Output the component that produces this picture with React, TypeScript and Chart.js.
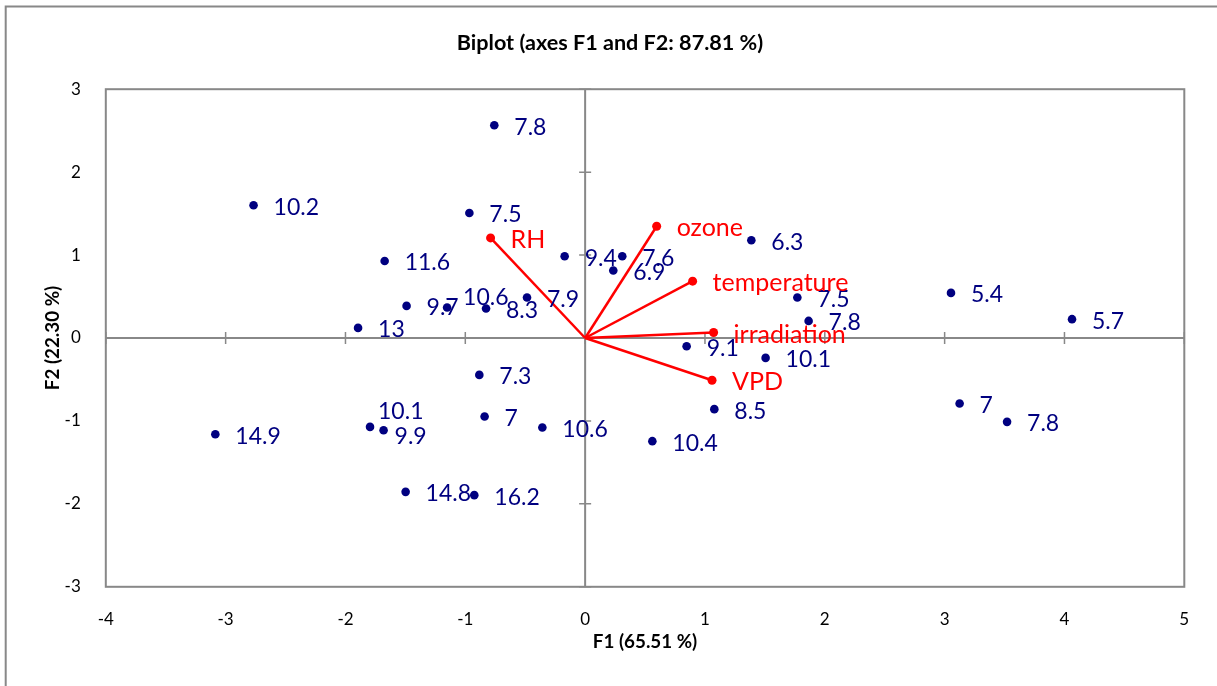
import React, { useEffect, useRef } from "react";
import { Chart, registerables } from "chart.js";
Chart.register(...registerables);

// Observations (F1, F2) and their labels
const obsF1 = [-0.758, -2.767, -0.966, -1.673, -1.490, -1.152, -0.827, -0.485, -1.895, -0.171, 0.310, 0.235, 1.387, 1.771, 1.865, 0.847, 1.506, 3.053, 4.063, 3.125, 3.521, -0.883, -1.795, -1.682, -0.839, -0.357, -1.498, -0.925, -3.086, 1.078, 0.561];
const obsF2 = [2.565, 1.601, 1.508, 0.929, 0.387, 0.368, 0.356, 0.488, 0.122, 0.986, 0.986, 0.814, 1.179, 0.488, 0.206, -0.099, -0.240, 0.544, 0.227, -0.790, -1.011, -0.445, -1.072, -1.112, -0.946, -1.079, -1.855, -1.895, -1.160, -0.858, -1.244];
const obsLabels = ["7.8", "10.2", "7.5", "11.6", "9.7", "10.6", "8.3", "7.9", "13", "9.4", "7.6", "6.9", "6.3", "7.5", "7.8", "9.1", "10.1", "5.4", "5.7", "7", "7.8", "7.3", "10.1", "9.9", "7", "10.6", "14.8", "16.2", "14.9", "8.5", "10.4"];

// Variables (loading vectors)
const varNames = ["RH", "ozone", "temperature", "irradiation", "VPD"];
const varF1 = [-0.789, 0.597, 0.897, 1.072, 1.059];
const varF2 = [1.207, 1.347, 0.685, 0.066, -0.509];

const xMin = -4, xMax = 5, yMin = -3, yMax = 3;
const chartTitle = "Biplot (axes F1 and F2: 87.81 %)";
const xTitle = "F1 (65.51 %)";
const yTitle = "F2 (22.30 %)";

// label placement tweaks (style only, indices into observations)
const labelNudge: Record<number, [number, number]> = { 5: [16, -10], 22: [8, -15], 23: [11, 6] };

const NAVY = "#000080";
const RED = "#ff0000";
const GRAY = "#888888";
const FONT = "Lato, 'Noto Sans', sans-serif";

export default function App() {
  const ref = useRef<HTMLCanvasElement | null>(null);
  useEffect(() => {
    const canvas = ref.current!;
    const decor = {
      id: "decor",
      beforeDatasetsDraw(chart: any) {
        const { ctx, chartArea: a, scales } = chart;
        const xs = scales.x, ys = scales.y;
        ctx.save();
        // outer frame
        ctx.strokeStyle = GRAY;
        ctx.lineWidth = 2;
        ctx.strokeRect(5.7, 6.5, 1240, 720);
        // plot frame
        ctx.strokeRect(a.left, a.top, a.right - a.left, a.bottom - a.top);
        // zero axes
        const x0 = xs.getPixelForValue(0), y0 = ys.getPixelForValue(0);
        ctx.beginPath();
        ctx.moveTo(a.left, y0); ctx.lineTo(a.right, y0);
        ctx.moveTo(x0, a.top); ctx.lineTo(x0, a.bottom);
        ctx.stroke();
        ctx.lineWidth = 1.5;
        ctx.beginPath();
        for (let v = xMin; v <= xMax; v++) {
          const px = xs.getPixelForValue(v);
          ctx.moveTo(px, y0 - 6); ctx.lineTo(px, y0 + 6);
        }
        for (let v = yMin; v <= yMax; v++) {
          const py = ys.getPixelForValue(v);
          ctx.moveTo(x0 - 6, py); ctx.lineTo(x0 + 6, py);
        }
        ctx.stroke();
        // titles
        ctx.fillStyle = "#000";
        ctx.textAlign = "center";
        ctx.textBaseline = "middle";
        ctx.font = `bold 21.6px ${FONT}`;
        ctx.fillText(chartTitle, 610, 43);
        ctx.font = `bold 18.8px ${FONT}`;
        ctx.fillText(xTitle, (a.left + a.right) / 2, 642);
        ctx.save();
        ctx.translate(53, (a.top + a.bottom) / 2);
        ctx.rotate(-Math.PI / 2);
        ctx.fillText(yTitle, 0, 0);
        ctx.restore();
        ctx.restore();
      },
      afterDatasetsDraw(chart: any) {
        const { ctx } = chart;
        ctx.save();
        ctx.textAlign = "left";
        ctx.textBaseline = "middle";
        ctx.font = `23px ${FONT}`;
        ctx.fillStyle = NAVY;
        const m0 = chart.getDatasetMeta(0);
        m0.data.forEach((el: any, i: number) => {
          const n = labelNudge[i] || [20, 2];
          ctx.fillText(obsLabels[i], el.x + n[0], el.y + n[1]);
        });
        ctx.font = `25px ${FONT}`;
        ctx.fillStyle = RED;
        varNames.forEach((name, i) => {
          const el = chart.getDatasetMeta(i + 1).data[1];
          ctx.fillText(name, el.x + 20, el.y + 2);
        });
        ctx.restore();
      },
    };

    const datasets: any[] = [
      {
        type: "scatter",
        data: obsF1.map((x, i) => ({ x, y: obsF2[i] })),
        backgroundColor: NAVY,
        borderColor: NAVY,
        pointRadius: 4.3,
        pointBorderWidth: 0,
        order: 2,
      },
      ...varNames.map((_, i) => ({
        type: "line",
        data: [{ x: 0, y: 0 }, { x: varF1[i], y: varF2[i] }],
        borderColor: RED,
        backgroundColor: RED,
        borderWidth: 2.5,
        pointRadius: [0, 4.5],
        pointBorderWidth: 0,
        fill: false,
        order: 1,
      })),
    ];

    const chart = new Chart(canvas, {
      type: "scatter",
      data: { datasets },
      options: {
        animation: false,
        responsive: false,
        events: [],
        layout: { padding: { left: 0, top: 89.2, right: 32.7, bottom: 0 } },
        plugins: { legend: { display: false }, tooltip: { enabled: false }, title: { display: false } },
        scales: {
          x: {
            type: "linear",
            min: xMin,
            max: xMax,
            grid: { display: false },
            border: { display: false },
            ticks: { stepSize: 1, color: "#000", font: { family: FONT, size: 17 }, padding: 15 },
            afterFit: (s: any) => { s.height = 99.2; },
          },
          y: {
            type: "linear",
            min: yMin,
            max: yMax,
            grid: { display: false },
            border: { display: false },
            ticks: { stepSize: 1, color: "#000", font: { family: FONT, size: 17 }, padding: 17 },
            afterFit: (s: any) => { s.width = 105.8; },
          },
        },
      } as any,
      plugins: [decor],
    });
    return () => chart.destroy();
  }, []);

  return (
    <div style={{ position: "fixed", left: 0, top: 0, width: 1217, height: 686, background: "#fff", overflow: "hidden" }}>
      <canvas ref={ref} width={1217} height={686} style={{ display: "block" }} />
    </div>
  );
}
